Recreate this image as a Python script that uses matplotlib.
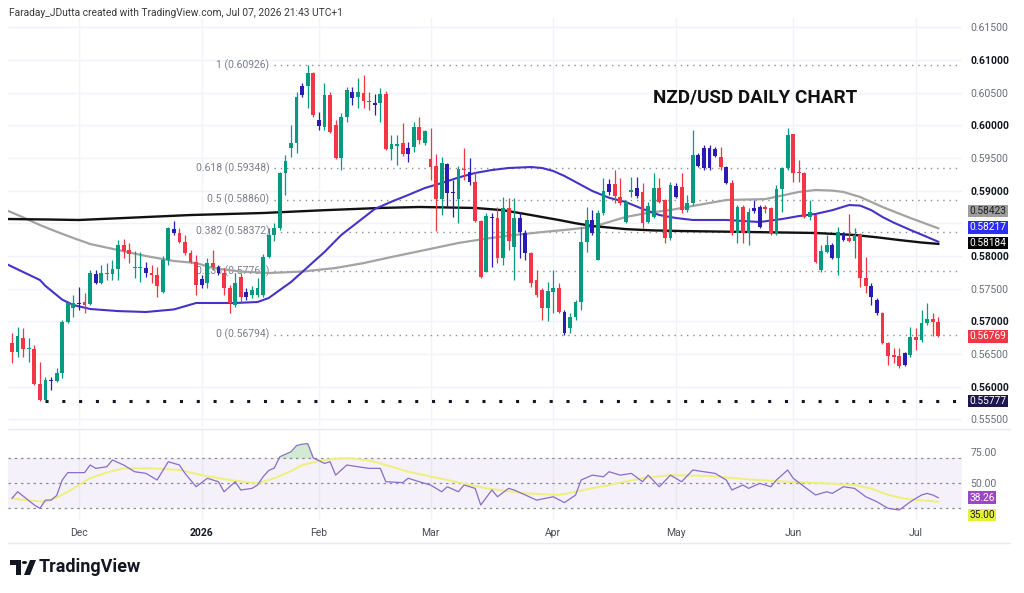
import matplotlib
matplotlib.use("Agg")
import matplotlib.pyplot as plt
from matplotlib.patches import Polygon, Circle
import numpy as np

plt.rcParams['font.family'] = ['Roboto', 'DejaVu Sans']

# ---------------- data (NZD/USD daily) ----------------
opens = [
    0.56666, 0.56528, 0.56743, 0.56574, 0.56574, 0.56038, 0.55800, 0.56100, 0.56090, 0.56207,
    0.56988, 0.57202, 0.57279, 0.57294, 0.57263, 0.57723, 0.57585, 0.57723, 0.57723, 0.57799,
    0.58167, 0.58090, 0.57815, 0.57815, 0.57815, 0.57738, 0.57708, 0.57447, 0.57937, 0.58412,
    0.58351, 0.58213, 0.58044, 0.57907, 0.57646, 0.57585, 0.57891, 0.57830, 0.57738, 0.57508,
    0.57248, 0.57677, 0.57447, 0.57401, 0.57401, 0.57401, 0.57983, 0.58320, 0.58427, 0.59270,
    0.59652, 0.59729, 0.60464, 0.60602, 0.60801, 0.60081, 0.59974, 0.60464, 0.60005, 0.59499,
    0.60127, 0.60510, 0.60433, 0.60495, 0.60372, 0.60341, 0.60341, 0.60479, 0.59637, 0.59683,
    0.59729, 0.59652, 0.59668, 0.59974, 0.59729, 0.59484, 0.59377, 0.58871, 0.59407, 0.58979,
    0.58871, 0.59331, 0.59285, 0.59132, 0.58534, 0.57753, 0.58596, 0.58580, 0.57968, 0.58734,
    0.58136, 0.58580, 0.58351, 0.58044, 0.57631, 0.57478, 0.57202, 0.57447, 0.57508, 0.57141,
    0.56896, 0.57064, 0.57294, 0.58213, 0.58550, 0.57937, 0.58657, 0.58979, 0.59101, 0.58902,
    0.58519, 0.58979, 0.59040, 0.58979, 0.58519, 0.58596, 0.59040, 0.58856, 0.58274, 0.59070,
    0.59055, 0.58703, 0.58810, 0.59545, 0.59346, 0.59652, 0.59637, 0.59515, 0.59361, 0.59116,
    0.58351, 0.58749, 0.58351, 0.58734, 0.58749, 0.58749, 0.58734, 0.58351, 0.59024, 0.59346,
    0.59867, 0.59285, 0.59270, 0.58596, 0.58626, 0.57784, 0.58060, 0.58167, 0.57968, 0.58351,
    0.58274, 0.58228, 0.58320, 0.57662, 0.57539, 0.57325, 0.57126, 0.56666, 0.56482, 0.56467,
    0.56329, 0.56482, 0.56758, 0.56712, 0.56972, 0.57034, 0.56988,
]
highs = [
    0.56819, 0.56911, 0.56896, 0.56743, 0.56636, 0.56375, 0.56145, 0.56145, 0.56283, 0.57018,
    0.57294, 0.57401, 0.57524, 0.57432, 0.57784, 0.57784, 0.57861, 0.57891, 0.57937, 0.58243,
    0.58258, 0.58198, 0.58075, 0.58060, 0.57907, 0.57861, 0.57830, 0.57998, 0.58443, 0.58534,
    0.58427, 0.58320, 0.58090, 0.58014, 0.57708, 0.57968, 0.58090, 0.57861, 0.57815, 0.57554,
    0.57738, 0.57738, 0.57508, 0.57539, 0.57662, 0.58029, 0.58427, 0.58504, 0.59285, 0.59545,
    0.60005, 0.60510, 0.60648, 0.60926, 0.60816, 0.60204, 0.60648, 0.60510, 0.60081, 0.60188,
    0.60587, 0.60587, 0.60725, 0.60770, 0.60510, 0.60479, 0.60571, 0.60525, 0.59851, 0.59851,
    0.60035, 0.59744, 0.60051, 0.60127, 0.59928, 0.59959, 0.59560, 0.59515, 0.59423, 0.59162,
    0.59377, 0.59652, 0.59499, 0.59285, 0.58550, 0.58657, 0.58657, 0.58749, 0.58902, 0.58887,
    0.58887, 0.58672, 0.58397, 0.58060, 0.57784, 0.57508, 0.57600, 0.57784, 0.57585, 0.57171,
    0.57126, 0.57325, 0.58443, 0.58749, 0.58703, 0.58703, 0.59193, 0.59178, 0.59315, 0.59193,
    0.58856, 0.59208, 0.59208, 0.59116, 0.58825, 0.59270, 0.59193, 0.58871, 0.59132, 0.59116,
    0.59270, 0.58933, 0.59928, 0.59576, 0.59698, 0.59698, 0.59668, 0.59668, 0.59377, 0.59162,
    0.58779, 0.58779, 0.58734, 0.58856, 0.58779, 0.58779, 0.58749, 0.59086, 0.59361, 0.59959,
    0.59867, 0.59469, 0.59285, 0.58856, 0.58626, 0.58167, 0.58320, 0.58198, 0.58443, 0.58366,
    0.58642, 0.58427, 0.58351, 0.57983, 0.57585, 0.57355, 0.57141, 0.56681, 0.56590, 0.56590,
    0.56528, 0.56911, 0.56896, 0.57171, 0.57279, 0.57126, 0.57064,
]
lows = [
    0.56360, 0.56452, 0.56452, 0.56375, 0.56020, 0.55785, 0.55777, 0.55946, 0.56069, 0.56130,
    0.56972, 0.57064, 0.57171, 0.57126, 0.57248, 0.57570, 0.57570, 0.57631, 0.57631, 0.57631,
    0.57968, 0.57891, 0.57662, 0.57600, 0.57677, 0.57585, 0.57371, 0.57432, 0.57861, 0.58320,
    0.58198, 0.58014, 0.57891, 0.57401, 0.57508, 0.57508, 0.57784, 0.57708, 0.57401, 0.57126,
    0.57217, 0.57294, 0.57325, 0.57355, 0.57371, 0.57371, 0.57968, 0.58228, 0.58397, 0.58933,
    0.59515, 0.59576, 0.60433, 0.60265, 0.60127, 0.59928, 0.59928, 0.59882, 0.59484, 0.59315,
    0.60051, 0.60311, 0.60265, 0.60265, 0.60234, 0.60158, 0.60051, 0.59622, 0.59469, 0.59392,
    0.59530, 0.59438, 0.59591, 0.59714, 0.59698, 0.59162, 0.58381, 0.58626, 0.58749, 0.58596,
    0.58504, 0.59162, 0.59086, 0.58519, 0.57662, 0.57753, 0.57830, 0.57891, 0.57861, 0.58090,
    0.57631, 0.57968, 0.57937, 0.57524, 0.57371, 0.57018, 0.57003, 0.57126, 0.57126, 0.56789,
    0.56819, 0.57018, 0.57171, 0.58060, 0.58320, 0.57937, 0.58626, 0.58933, 0.58810, 0.58779,
    0.58504, 0.58902, 0.58887, 0.58427, 0.58504, 0.58580, 0.58810, 0.58198, 0.58243, 0.58887,
    0.58657, 0.58672, 0.58779, 0.59361, 0.59315, 0.59315, 0.59515, 0.59315, 0.59101, 0.58320,
    0.58198, 0.58198, 0.58167, 0.58657, 0.58427, 0.58657, 0.58320, 0.58320, 0.58672, 0.59315,
    0.59132, 0.59132, 0.58580, 0.58550, 0.57891, 0.57753, 0.58044, 0.57953, 0.57708, 0.58228,
    0.58213, 0.57968, 0.57524, 0.57432, 0.57248, 0.57095, 0.56651, 0.56329, 0.56360, 0.56283,
    0.56314, 0.56452, 0.56559, 0.56681, 0.56942, 0.56773, 0.56758,
]
closes = [
    0.56528, 0.56773, 0.56574, 0.56590, 0.56038, 0.55800, 0.56100, 0.56084, 0.56207, 0.56988,
    0.57279, 0.57279, 0.57263, 0.57248, 0.57738, 0.57585, 0.57738, 0.57745, 0.57799, 0.58167,
    0.58075, 0.58029, 0.57830, 0.57830, 0.57738, 0.57708, 0.57539, 0.57937, 0.58427, 0.58351,
    0.58213, 0.58044, 0.57907, 0.57554, 0.57554, 0.57891, 0.57830, 0.57738, 0.57508, 0.57279,
    0.57585, 0.57371, 0.57371, 0.57478, 0.57508, 0.57983, 0.58320, 0.58427, 0.59270, 0.59453,
    0.59729, 0.60433, 0.60602, 0.60801, 0.60158, 0.59989, 0.60464, 0.59897, 0.59499, 0.60127,
    0.60541, 0.60418, 0.60510, 0.60372, 0.60357, 0.60311, 0.60479, 0.59637, 0.59714, 0.59714,
    0.59560, 0.59560, 0.59974, 0.59775, 0.59913, 0.59361, 0.58871, 0.59423, 0.58963, 0.58963,
    0.59331, 0.59315, 0.59132, 0.58534, 0.57677, 0.58611, 0.58580, 0.57968, 0.58734, 0.58228,
    0.58580, 0.58366, 0.58044, 0.57585, 0.57401, 0.57202, 0.57462, 0.57508, 0.57141, 0.56819,
    0.57064, 0.57294, 0.58213, 0.58550, 0.58351, 0.58657, 0.58994, 0.59101, 0.58917, 0.58810,
    0.58825, 0.59009, 0.58917, 0.58504, 0.58764, 0.59040, 0.58825, 0.58274, 0.59086, 0.58902,
    0.58703, 0.58810, 0.59545, 0.59377, 0.59652, 0.59346, 0.59530, 0.59361, 0.59116, 0.58351,
    0.58749, 0.58351, 0.58672, 0.58688, 0.58443, 0.58718, 0.58351, 0.59024, 0.59346, 0.59851,
    0.59270, 0.59270, 0.58596, 0.58672, 0.57907, 0.58075, 0.58167, 0.57968, 0.58366, 0.58243,
    0.58228, 0.58320, 0.57662, 0.57539, 0.57371, 0.57126, 0.56666, 0.56467, 0.56452, 0.56314,
    0.56513, 0.56758, 0.56712, 0.56972, 0.57034, 0.56988, 0.56769,
]
# bars painted blue by the chart's bar-colour script
blue_bars = [7, 12, 15, 24, 29, 34, 37, 42, 52, 55, 61, 65, 71, 78, 79, 82, 86, 91, 92, 99,
             104, 107, 112, 119, 123, 124, 125, 126, 128, 133, 134, 147, 149, 154, 155, 160]

# moving averages (bar index, value)
ma200_idx = [-1, 6, 12, 20, 32, 45, 56, 66, 73, 83, 88, 93, 96, 98, 101, 104, 110, 115, 120,
             132, 144, 151, 155, 159, 163, 166]
ma200_val = [0.58565, 0.58558, 0.58550, 0.58580, 0.58626, 0.58657, 0.58700, 0.58734, 0.58749,
             0.58734, 0.58700, 0.58626, 0.58580, 0.58550, 0.58500, 0.58458, 0.58410, 0.58390,
             0.58381, 0.58366, 0.58351, 0.58320, 0.58285, 0.58243, 0.58205, 0.58184]
ma100_idx = [-1, 2, 5, 8, 11, 14, 19, 24, 29, 33, 36, 41, 46, 52, 58, 63, 68, 74, 80, 85, 90,
             95, 99, 104, 110, 114, 118, 123, 128, 135, 141, 144, 147, 149, 152, 156, 161, 166]
ma100_val = [0.58700, 0.58590, 0.58473, 0.58370, 0.58274, 0.58182, 0.58090, 0.57998, 0.57922,
             0.57891, 0.57815, 0.57760, 0.57738, 0.57760, 0.57815, 0.57890, 0.57983, 0.58090,
             0.58198, 0.58265, 0.58320, 0.58365, 0.58397, 0.58443, 0.58596, 0.58660, 0.58703,
             0.58780, 0.58856, 0.58870, 0.58979, 0.59009, 0.59000, 0.58979, 0.58902, 0.58749,
             0.58580, 0.58423]
ma50_idx = [-1, 2, 5, 6, 8, 9, 11, 14, 19, 24, 29, 33, 40, 44, 46, 48, 50, 52, 54, 56, 59, 62,
            65, 68, 71, 74, 77, 80, 83, 86, 89, 93, 95, 97, 99, 101, 104, 107, 110, 113, 116,
            119, 122, 128, 134, 138, 141, 144, 147, 150, 152, 154, 156, 158, 161, 164, 166]
ma50_val = [0.57876, 0.57753, 0.57631, 0.57540, 0.57400, 0.57330, 0.57248, 0.57187, 0.57155,
            0.57141, 0.57180, 0.57279, 0.57279, 0.57294, 0.57355, 0.57478, 0.57600, 0.57753,
            0.57907, 0.58060, 0.58320, 0.58519, 0.58718, 0.58830, 0.58933, 0.59040, 0.59116,
            0.59200, 0.59270, 0.59315, 0.59346, 0.59361, 0.59346, 0.59300, 0.59224, 0.59132,
            0.58994, 0.58890, 0.58825, 0.58720, 0.58626, 0.58580, 0.58550, 0.58550, 0.58519,
            0.58565, 0.58610, 0.58642, 0.58700, 0.58779, 0.58770, 0.58700, 0.58596, 0.58510,
            0.58397, 0.58290, 0.58217]

# RSI(14) and its moving average
rsi_idx = [0, 1, 2, 4, 5, 6, 7, 8, 9, 10, 13, 14, 15, 17, 18, 20, 22, 24, 26, 28, 30, 31,
           33, 35, 37, 38, 40, 41, 43, 44, 45, 46, 47, 48, 49, 50, 51, 52, 53, 54, 56, 57,
           58, 60, 62, 64, 66, 67, 70, 71, 73, 75, 77, 78, 80, 81, 83, 84, 86, 87, 89, 90,
           92, 94, 97, 99, 101, 102, 104, 106, 107, 109, 111, 113, 114, 116, 118, 120, 122,
           124, 126, 128, 129, 131, 132, 134, 136, 137, 139, 140, 142, 144, 146, 147, 149,
           151, 153, 155, 157, 159, 161, 163, 164, 165, 166]
rsi_val = [37.7, 43.0, 39.5, 32.4, 29.7, 36.3, 36.3, 40.0, 52.4, 58.3, 58.3, 64.4, 61.7,
           63.0, 68.4, 64.4, 59.0, 57.7, 52.4, 67.0, 64.4, 57.7, 47.0, 53.8, 51.0, 43.0,
           51.0, 44.4, 45.7, 48.4, 55.0, 60.0, 62.0, 71.0, 73.0, 75.0, 80.0, 81.0, 81.5,
           70.0, 65.7, 67.0, 56.3, 64.4, 63.0, 61.7, 61.7, 51.0, 50.3, 53.8, 51.0, 48.4,
           43.0, 47.0, 43.0, 48.4, 45.7, 32.4, 44.4, 39.0, 45.7, 44.4, 40.4, 36.3, 39.0,
           34.3, 40.4, 52.4, 56.3, 55.0, 59.0, 56.3, 57.7, 51.0, 56.3, 47.0, 56.3, 51.0,
           60.4, 59.0, 57.7, 52.4, 44.4, 48.4, 45.7, 49.7, 47.0, 52.4, 60.4, 53.8, 47.0,
           40.4, 43.0, 41.7, 47.0, 45.7, 39.0, 35.0, 29.7, 28.4, 35.0, 40.4, 41.7, 40.4, 38.26]
rsima_idx = [0, 3, 6, 8, 10, 12, 14, 17, 20, 25, 30, 34, 39, 44, 47, 50, 52, 55, 57, 59, 61,
             64, 66, 71, 78, 85, 92, 98, 101, 104, 107, 110, 113, 118, 125, 132, 139, 146,
             151, 154, 157, 160, 163, 166]
rsima_val = [37.7, 36.0, 35.0, 38.5, 43.0, 48.5, 53.8, 58.5, 61.7, 61.7, 60.4, 56.3, 52.4,
             49.7, 53.8, 59.5, 64.4, 67.5, 69.0, 69.8, 69.7, 68.0, 65.7, 59.0, 52.4, 45.7,
             41.7, 40.4, 43.0, 45.8, 48.4, 51.2, 53.8, 56.3, 55.6, 52.9, 51.0, 49.7, 48.4,
             45.5, 40.5, 37.5, 36.0, 35.0]

# Fibonacci retracement
fib_ratio = [1, 0.618, 0.5, 0.382, 0.236, 0]
fib_price = [0.60926, 0.59348, 0.58860, 0.58372, 0.57769, 0.56794]
fib_start = 47
support_price = 0.55777
support_start = 6

month_idx = [12, 34, 55, 75, 97, 119, 140, 162]
month_lbl = ['Dec', '2026', 'Feb', 'Mar', 'Apr', 'May', 'Jun', 'Jul']

# ---------------- style ----------------
GREEN = '#089981'
RED = '#f23645'
BLUE = '#2a1bb5'
GRID = '#f0f3fa'
TXT = '#131722'
GREYTXT = '#6a6d78'

W, H = 1024, 593
fig = plt.figure(figsize=(W / 100, H / 100), dpi=100)

def fbox(l, t, r, b):
    return [l / W, 1 - b / H, (r - l) / W, (b - t) / H]

ax = fig.add_axes(fbox(8, 18, 962, 427))
axr = fig.add_axes(fbox(8, 430, 962, 520), sharex=ax)

n = len(opens)
x = np.arange(n)
o = np.array(opens); h = np.array(highs); l = np.array(lows); c = np.array(closes)
cols = np.where(c >= o, GREEN, RED).astype(object)
cols[blue_bars] = BLUE

# grid
for mi in month_idx:
    ax.axvline(mi, color=GRID, lw=1, zorder=0)
    axr.axvline(mi, color=GRID, lw=1, zorder=0)
yt = np.arange(0.555, 0.6151, 0.005)
for yv in yt:
    ax.axhline(yv, color=GRID, lw=1, zorder=0)

# fib levels
for r, p in zip(fib_ratio, fib_price):
    ax.plot([fib_start, 171], [p, p], color='#8a8d96', lw=1, ls=(0, (1, 3.5)), zorder=1)
    ax.text(fib_start - 0.9, p, f"{r:g} ({p:.5f})", ha='right', va='center',
            fontsize=7.5, color='#7b7e88', zorder=1)

ax.plot([support_start, 171], [support_price] * 2, color='#131722', lw=2.2,
        ls=(0, (1, 4.5)), zorder=2)

# moving averages
ax.plot(ma100_idx, ma100_val, color='#a3a3a3', lw=1.6, zorder=2.5)
ax.plot(ma200_idx, ma200_val, color='#111111', lw=1.7, zorder=2.5)
ax.plot(ma50_idx, ma50_val, color='#4433c8', lw=1.5, zorder=2.6)

# candles
ax.vlines(x, l, h, colors=list(cols), lw=0.9, zorder=3)
body_lo = np.minimum(o, c)
body_h = np.maximum(np.abs(c - o), 0.00012)
ax.bar(x, body_h, bottom=body_lo, width=0.68, color=list(cols), lw=0, zorder=4)

ax.set_xlim(-0.72, 170.25)
ax.set_ylim(0.55380, 0.61643)
ax.yaxis.tick_right()
ax.set_yticks(yt)
# the 0.585 level is covered by the moving-average tags on the original
ax.set_yticklabels(['' if abs(v - 0.585) < 1e-6 else f"{v:.5f}" for v in yt])
for lab, v in zip(ax.get_yticklabels(), yt):
    if abs(v * 100 - round(v * 100)) < 1e-6:
        lab.set_color(TXT)
        lab.set_fontweight('bold')
    else:
        lab.set_color(GREYTXT)
ax.tick_params(axis='y', length=0, pad=6, labelsize=7.5)
ax.tick_params(axis='x', length=0, labelbottom=False)
for s in ax.spines.values():
    s.set_visible(False)

def price_tag(axis, val, text, fc, tc, dy=0):
    axis.annotate(text, xy=(1, val), xycoords=('axes fraction', 'data'),
                  xytext=(5.5, dy), textcoords='offset points', ha='left', va='center',
                  fontsize=7.3, color=tc,
                  bbox=dict(boxstyle='square,pad=0.12', fc=fc, ec='none'), zorder=10)

price_tag(ax, ma100_val[-1], f"{ma100_val[-1]:.5f}", '#9e9e9e', '#202020', dy=12.5)
price_tag(ax, ma50_val[-1], f"{ma50_val[-1]:.5f}", '#2d2df5', 'white', dy=10.4)
price_tag(ax, ma200_val[-1], f"{ma200_val[-1]:.5f}", '#000000', 'white', dy=0.6)
price_tag(ax, closes[-1], f"{closes[-1]:.5f}", RED, 'white')
price_tag(ax, support_price, f"{support_price:.5f}", '#1e1650', 'white')

# RSI pane
axr.axhspan(30, 70, color='#7e57c2', alpha=0.08, lw=0, zorder=0)
for lv in (70, 50, 30):
    axr.axhline(lv, color='#8a8d96', lw=0.9, ls=(0, (2, 3)), zorder=1)
ri = np.array(rsi_idx); rv = np.array(rsi_val)
axr.fill_between(ri, rv, 70, where=rv > 70, interpolate=True, color='#4caf50', alpha=0.25, lw=0)
axr.fill_between(ri, rv, 30, where=rv < 30, interpolate=True, color=RED, alpha=0.2, lw=0)
axr.plot(rsima_idx, rsima_val, color='#eef07a', lw=1.4, zorder=2)
axr.plot(rsi_idx, rsi_val, color='#8a6cc9', lw=0.9, zorder=3)
axr.set_ylim(20.4, 92.4)
axr.yaxis.tick_right()
axr.set_yticks([75, 50])
axr.set_yticklabels(['75.00', '50.00'], color=GREYTXT)
axr.tick_params(axis='y', length=0, pad=6, labelsize=7.5)
axr.set_xticks(month_idx)
axr.set_xticklabels(month_lbl, fontsize=7.5, color='#4a4d57')
axr.get_xticklabels()[1].set_fontweight('bold')
axr.get_xticklabels()[1].set_color(TXT)
axr.tick_params(axis='x', length=0, pad=6)
for s in axr.spines.values():
    s.set_visible(False)
price_tag(axr, rsi_val[-1], f"{rsi_val[-1]:.2f}", '#9c47c4', 'white')
price_tag(axr, rsima_val[-1], f"{rsima_val[-1]:.2f}", '#e4f03c', '#202020', dy=-9.5)

# separators / frame
fig.add_artist(plt.Line2D([8 / W, 1010 / W], [1 - 428.5 / H] * 2, color='#e8eaf0', lw=1))
fig.add_artist(plt.Line2D([8 / W, 1010 / W], [1 - 543 / H] * 2, color='#e8eaf0', lw=1))

# header / title
fig.text(9 / W, 1 - 13 / H, "Faraday_JDutta created with TradingView.com, Jul 07, 2026 21:43 UTC+1",
         fontsize=7.4, color='#3a3a3a', va='center', ha='left')
fig.text(755 / W, 1 - 97 / H, "NZD/USD DAILY CHART", fontsize=13.6, fontweight='bold',
         color='#111111', ha='center', va='center')

# TradingView logo
def fp(px, py):
    return (px / W, 1 - py / H)
fig.add_artist(Polygon([fp(10, 560), fp(21, 560), fp(21, 575), fp(16, 575), fp(16, 565),
                        fp(10, 565)], closed=True, transform=fig.transFigure, fc='#131722', ec='none'))
fig.add_artist(Circle(fp(24.5, 562.5), 2.6 / W, transform=fig.transFigure, fc='#131722', ec='none'))
fig.add_artist(Polygon([fp(30, 560), fp(36, 560), fp(30, 575), fp(24, 575)], closed=True,
                       transform=fig.transFigure, fc='#131722', ec='none'))
fig.text(39 / W, 1 - 567 / H, "TradingView", fontsize=13, fontweight='bold', color='#131722',
         ha='left', va='center')

fig.savefig('out.png', dpi=100)
